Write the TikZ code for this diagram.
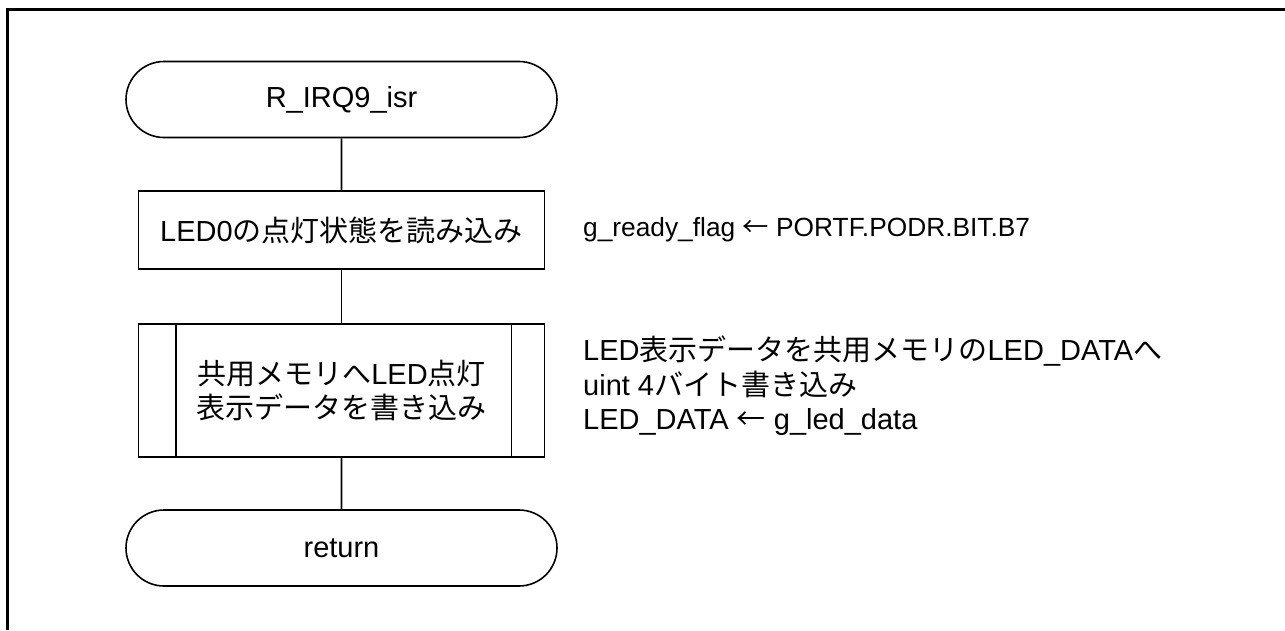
\documentclass[tikz,border=0pt]{standalone}
\usepackage{fontspec}
\setmainfont{Liberation Sans}
\newfontfamily\cjk{Noto Sans CJK JP}
\usetikzlibrary{shapes.misc}
\newcommand\J[1]{{\cjk #1}}
\begin{document}
\begin{tikzpicture}[x=1pt,y=-1pt,
  txt/.style={font=\fontsize{29}{34.5}\selectfont},
  term/.style={txt, draw, line width=1.6pt, rounded rectangle, minimum width=431, minimum height=76, inner sep=0pt},
  procbox/.style={txt, draw, line width=1.6pt, rectangle, inner sep=0pt, align=center},
  note/.style={txt, anchor=west, align=left, inner sep=0pt},
  conn/.style={line width=1.6pt}]
\useasboundingbox (0,0) rectangle (1285,630);
\draw[line width=3pt] (7.5,630) -- (7.5,9.5) -- (1285,9.5);

\node[term] (start) at (341.5,99.5) {R\_IRQ9\_isr};
\node[procbox, minimum width=406, minimum height=78] (read) at (341.5,230) {LED0\J{の点灯状態を読み込み}};
\node[procbox, minimum width=406, minimum height=133] (write) at (341.5,390.5) {\J{共用メモリへ}LED\J{点灯}\\\J{表示データを書き込み}};
\node[term] (ret) at (341.5,548) {return};

\draw[conn] ([xshift=38pt]write.north west) -- ([xshift=38pt]write.south west);
\draw[conn] ([xshift=-34pt]write.north east) -- ([xshift=-34pt]write.south east);

\draw[conn] (start) -- (read);
\draw[conn] (read) -- (write);
\draw[conn] (write) -- (ret);

\node[note, font=\fontsize{26.3}{32}\selectfont] (n1) at (583,230) {g\_ready\_flag \J{←} PORTF.PODR.BIT.B7};
\node[note] (n2) at (583,386) {LED\J{表示データを共用メモリの}LED\_DATA\J{へ}\\uint 4\J{バイト書き込み}\\LED\_DATA \J{←} g\_led\_data};
\end{tikzpicture}
\end{document}
